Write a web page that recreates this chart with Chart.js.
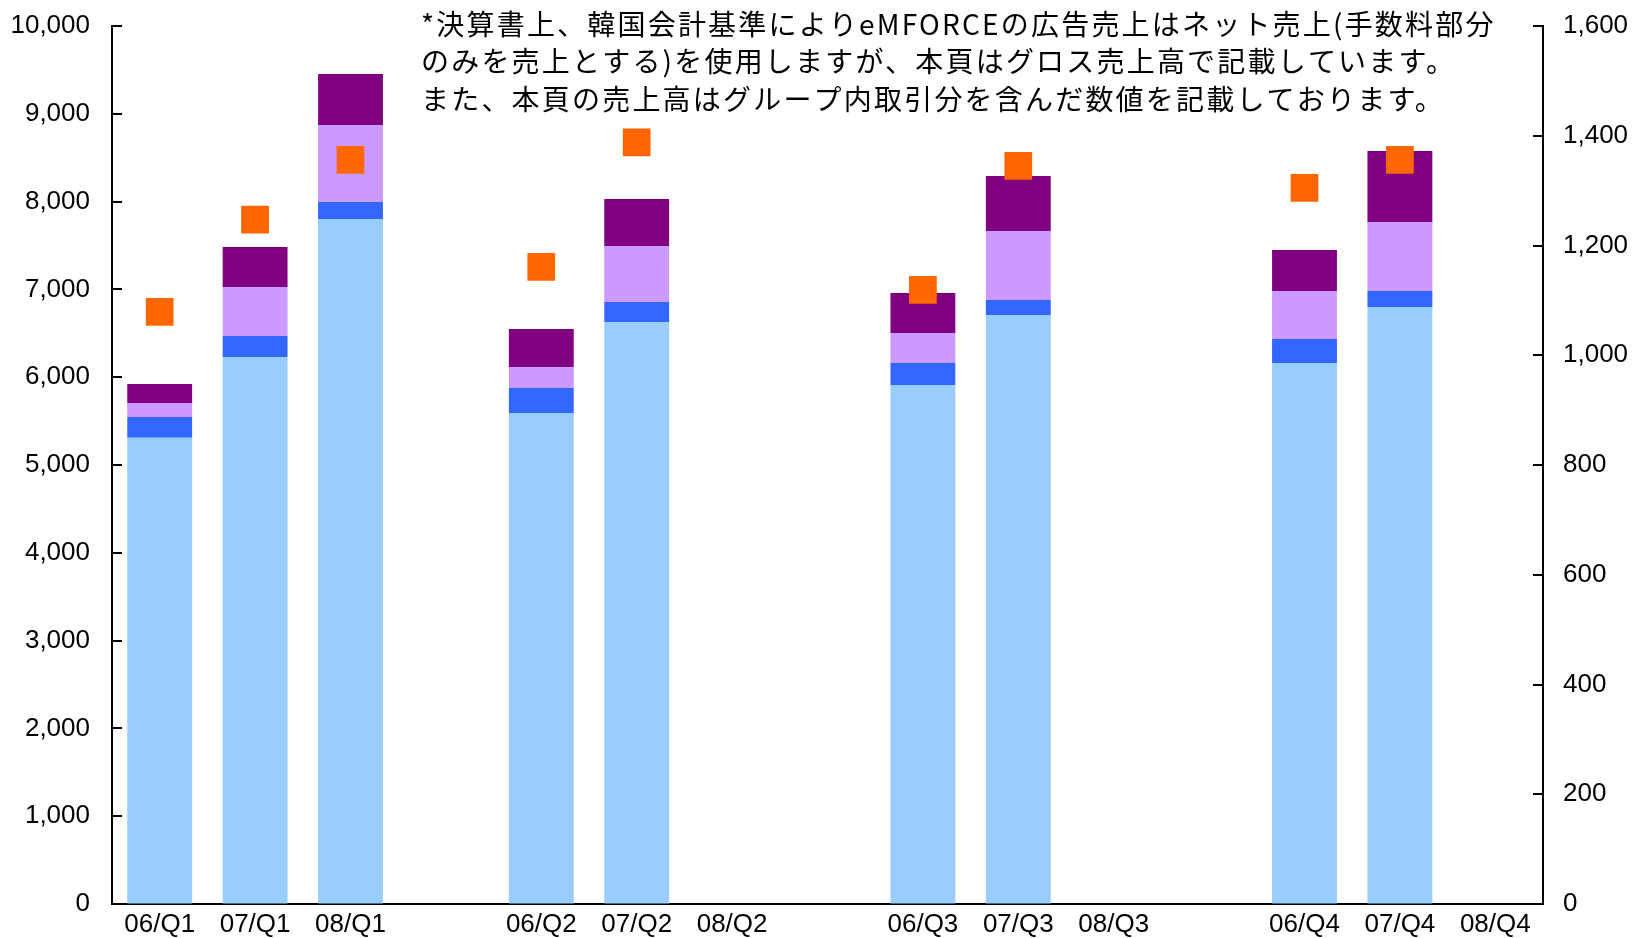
<!DOCTYPE html>
<html lang="ja">
<head>
<meta charset="utf-8">
<title>四半期売上高推移</title>
<script src="https://cdn.jsdelivr.net/npm/chart.js@4.4.1/dist/chart.umd.min.js"></script>
<style>
  html, body { margin: 0; padding: 0; background: #ffffff; }
  #wrap { width: 1634px; height: 938px; position: relative; }
  canvas { display: block; }
</style>
</head>
<body>
<div id="wrap"><canvas id="chart" width="1634" height="938"></canvas></div>
<script>
// Quarter categories (blank slots separate the quarter groups)
const categories = ['06/Q1', '07/Q1', '08/Q1', '', '06/Q2', '07/Q2', '08/Q2', '', '06/Q3', '07/Q3', '08/Q3', '', '06/Q4', '07/Q4', '08/Q4'];

// Stacked revenue segments (left axis), bottom to top
const segmentBase   = [5311, 6230, 7802, null, 5592, 6629, null, null, 5911, 6708, null, null, 6162, 6800, null];
const segmentBlue   = [236, 239, 193, null, 285, 227, null, null, 251, 171, null, null, 273, 182, null];
const segmentLilac  = [159, 558, 877, null, 239, 638, null, null, 341, 786, null, null, 547, 786, null];
const segmentPurple = [217, 456, 581, null, 433, 536, null, null, 456, 627, null, null, 467, 808, null];

// Marker series (right axis)
const markerValues = [1079, 1247, 1356, null, 1161, 1388, null, null, 1119, 1345, null, null, 1305, 1356, null];

// Axis ranges
const leftAxisMax = 10000, leftAxisStep = 1000;
const rightAxisMax = 1600, rightAxisStep = 200;

// Note lines printed in the upper part of the plot
const noteLines = [
  '*決算書上、韓国会計基準によりeMFORCEの広告売上はネット売上(手数料部分',
  'のみを売上とする)を使用しますが、本頁はグロス売上高で記載しています。',
  'また、本頁の売上高はグループ内取引分を含んだ数値を記載しております。'
];

const tickFont = { family: "'Liberation Sans', Arial, sans-serif", size: 26 };

// Invisible outer ticks only reserve the gap between axis line and labels
const gapGrid = (len) => ({
  display: true, drawOnChartArea: false, drawTicks: true,
  tickLength: len, tickColor: 'rgba(0,0,0,0)'
});

// Short tick marks drawn inward from both vertical axes
const innerTicks = {
  id: 'innerTicks',
  afterDatasetsDraw(chart) {
    const ctx = chart.ctx;
    const area = chart.chartArea;
    ctx.save();
    ctx.strokeStyle = '#000000';
    ctx.lineWidth = 2;
    const left = chart.scales.y;
    left.ticks.forEach(t => {
      const py = Math.round(left.getPixelForValue(t.value));
      ctx.beginPath();
      ctx.moveTo(area.left, py);
      ctx.lineTo(area.left + 10, py);
      ctx.stroke();
    });
    const right = chart.scales.y1;
    right.ticks.forEach(t => {
      const py = Math.round(right.getPixelForValue(t.value));
      ctx.beginPath();
      ctx.moveTo(area.right - 10, py);
      ctx.lineTo(area.right, py);
      ctx.stroke();
    });
    ctx.restore();
  }
};

// Footnote text block
const noteText = {
  id: 'noteText',
  afterDraw(chart) {
    const ctx = chart.ctx;
    ctx.save();
    ctx.fillStyle = '#000000';
    ctx.font = "28px 'Noto Sans CJK JP', sans-serif";
    ctx.textAlign = 'left';
    ctx.textBaseline = 'alphabetic';
    if ('letterSpacing' in ctx) ctx.letterSpacing = '2.2px';
    const baselines = [35, 72, 110];
    noteLines.forEach((line, i) => ctx.fillText(line, 421, baselines[i]));
    ctx.restore();
  }
};

const barCommon = { stack: 'sales', yAxisID: 'y', barPercentage: 0.68, categoryPercentage: 1.0, borderWidth: 0 };

new Chart(document.getElementById('chart'), {
  type: 'bar',
  data: {
    labels: categories,
    datasets: [
      { type: 'line', label: 'marker', data: markerValues, yAxisID: 'y1', showLine: false,
        pointStyle: 'rect', pointRadius: 19.6, pointHoverRadius: 19.6,
        backgroundColor: '#FF6600', borderColor: '#FF6600', borderWidth: 0, order: 0 },
      Object.assign({ label: 'base', data: segmentBase, backgroundColor: '#99CCFF', order: 1 }, barCommon),
      Object.assign({ label: 'blue', data: segmentBlue, backgroundColor: '#3366FF', order: 1 }, barCommon),
      Object.assign({ label: 'lilac', data: segmentLilac, backgroundColor: '#CC99FF', order: 1 }, barCommon),
      Object.assign({ label: 'purple', data: segmentPurple, backgroundColor: '#800080', order: 1 }, barCommon)
    ]
  },
  options: {
    responsive: false,
    animation: false,
    devicePixelRatio: 1,
    locale: 'en-US',
    layout: { padding: { top: 26, left: 0, right: 0, bottom: 0 } },
    plugins: { legend: { display: false }, tooltip: { enabled: false }, title: { display: false } },
    scales: {
      x: {
        stacked: true,
        offset: true,
        grid: { display: false, drawTicks: false },
        border: { display: true, color: '#000000', width: 2 },
        ticks: { color: '#000000', font: tickFont, padding: 5, autoSkip: false, maxRotation: 0 },
        afterFit(scale) { scale.height = 34; }
      },
      y: {
        stacked: true,
        position: 'left',
        min: 0, max: leftAxisMax,
        grid: gapGrid(22),
        border: { display: true, color: '#000000', width: 2 },
        ticks: { stepSize: leftAxisStep, color: '#000000', font: tickFont, padding: 0 },
        afterFit(scale) { scale.width = 112; }
      },
      y1: {
        position: 'right',
        min: 0, max: rightAxisMax,
        grid: gapGrid(20),
        border: { display: true, color: '#000000', width: 2 },
        ticks: { stepSize: rightAxisStep, color: '#000000', font: tickFont, padding: 0 },
        afterFit(scale) { scale.width = 91; }
      }
    }
  },
  plugins: [innerTicks, noteText]
});
</script>
</body>
</html>
